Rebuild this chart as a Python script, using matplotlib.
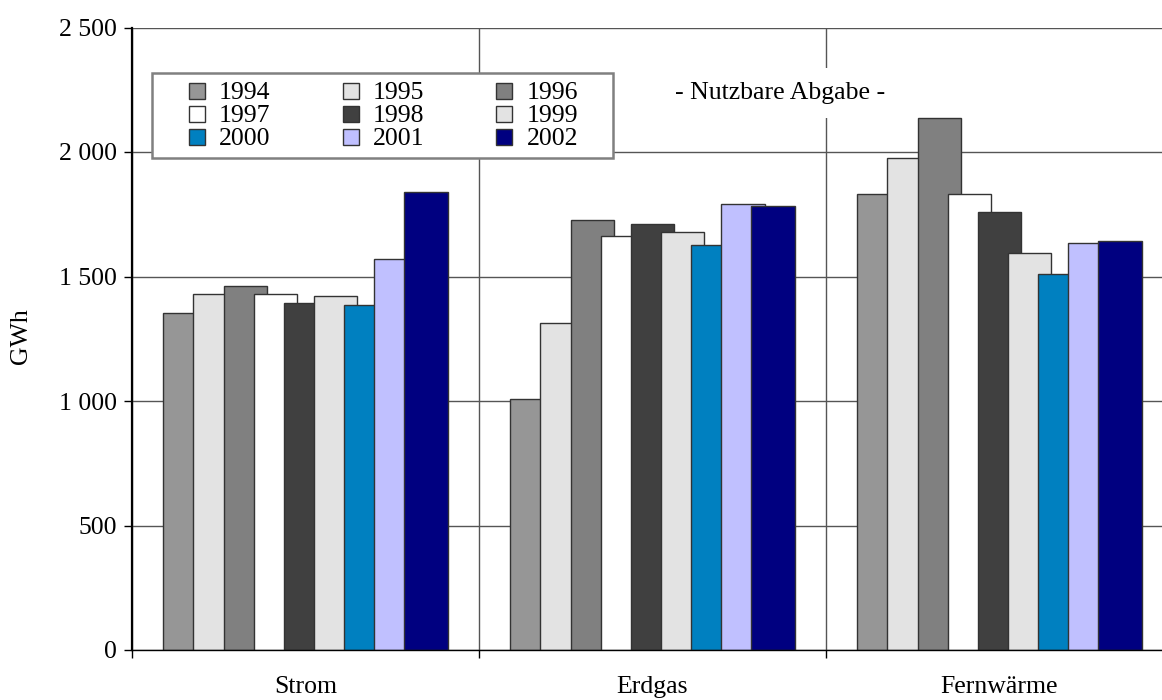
import numpy as np
import matplotlib.pyplot as plt
from matplotlib.patches import Rectangle
from matplotlib.ticker import FuncFormatter, FixedLocator

plt.rcParams['font.family'] = ['Liberation Serif', 'DejaVu Serif']
plt.rcParams['font.size'] = 18.5

categories = ['Strom', 'Erdgas', 'Fernwärme']
years = ['1994', '1995', '1996', '1997', '1998', '1999', '2000', '2001', '2002']
strom = [1352, 1429, 1461, 1429, 1392, 1420, 1384, 1570, 1838]
erdgas = [1007, 1313, 1728, 1664, 1712, 1680, 1628, 1793, 1784]
fernwaerme = [1833, 1976, 2135, 1833, 1760, 1596, 1509, 1636, 1643]
colors = ['#969696', '#e3e3e3', '#808080', '#ffffff', '#404040',
          '#e3e3e3', '#0080c0', '#c0c0ff', '#000080']

values = np.array([strom, erdgas, fernwaerme])

W, H = 1162, 700
fig = plt.figure(figsize=(W / 100, H / 100), dpi=100)
ax = fig.add_axes([132 / W, 50 / H, 1041 / W, 622.5 / H])

# overlapping bars like the spreadsheet original
step = 30 / 346
width = 43.5 / 346
start = 0.5 - (8 * step + width) / 2
x = np.arange(len(categories))
for j, year in enumerate(years):
    ax.bar(x + start + j * step, values[:, j], width=width, align='edge',
           color=colors[j], edgecolor='#333333', linewidth=1.0)

ax.set_xlim(0, 3)
ax.set_ylim(0, 2500)
ax.set_axisbelow(True)

ax.yaxis.set_major_locator(FixedLocator([0, 500, 1000, 1500, 2000, 2500]))
ax.yaxis.set_major_formatter(FuncFormatter(lambda v, p: f"{int(v):,}".replace(',', ' ')))
ax.tick_params(axis='y', length=5.8, width=1, pad=5)

ax.xaxis.set_major_locator(FixedLocator([0, 1, 2, 3]))
ax.xaxis.set_minor_locator(FixedLocator(x + 0.5))
ax.set_xticklabels([])
ax.set_xticklabels(categories, minor=True)
ax.tick_params(axis='x', which='major', length=5.8, width=1)
ax.tick_params(axis='x', which='minor', length=0, pad=19)

ax.grid(True, which='major', axis='both', color='#555555', linewidth=1)

for s in ['top', 'right']:
    ax.spines[s].set_visible(False)
ax.spines['left'].set_linewidth(1.6)
ax.spines['bottom'].set_linewidth(1.0)

ax.set_ylabel('')
fig.text(21 / W, 1 - 336 / H, 'GWh', rotation=90, ha='center', va='center')

fig.text(780 / W, 1 - 99 / H, '- Nutzbare Abgabe -', ha='center', va='baseline',
         bbox=dict(boxstyle='square,pad=0.55', facecolor='white', edgecolor='none'))

# legend box, 3 columns filled row by row
box = Rectangle((152 / W, 1 - 157.7 / H), (613 - 152) / W, (157.7 - 72.7) / H,
                transform=fig.transFigure, facecolor='white', edgecolor='#808080',
                linewidth=1.8, zorder=10)
fig.add_artist(box)
for idx, year in enumerate(years):
    r, c = divmod(idx, 3)
    sq = Rectangle(((189.3 + c * 153.5) / W, 1 - (99.3 + r * 22.7) / H), 16 / W, 16 / H,
                   transform=fig.transFigure, facecolor=colors[idx],
                   edgecolor='#333333', linewidth=1.0, zorder=11)
    fig.add_artist(sq)
    fig.text((219 + c * 154) / W, 1 - (99.3 + r * 22.7) / H, year,
             ha='left', va='baseline', zorder=12)

fig.savefig('out.png', dpi=100)
